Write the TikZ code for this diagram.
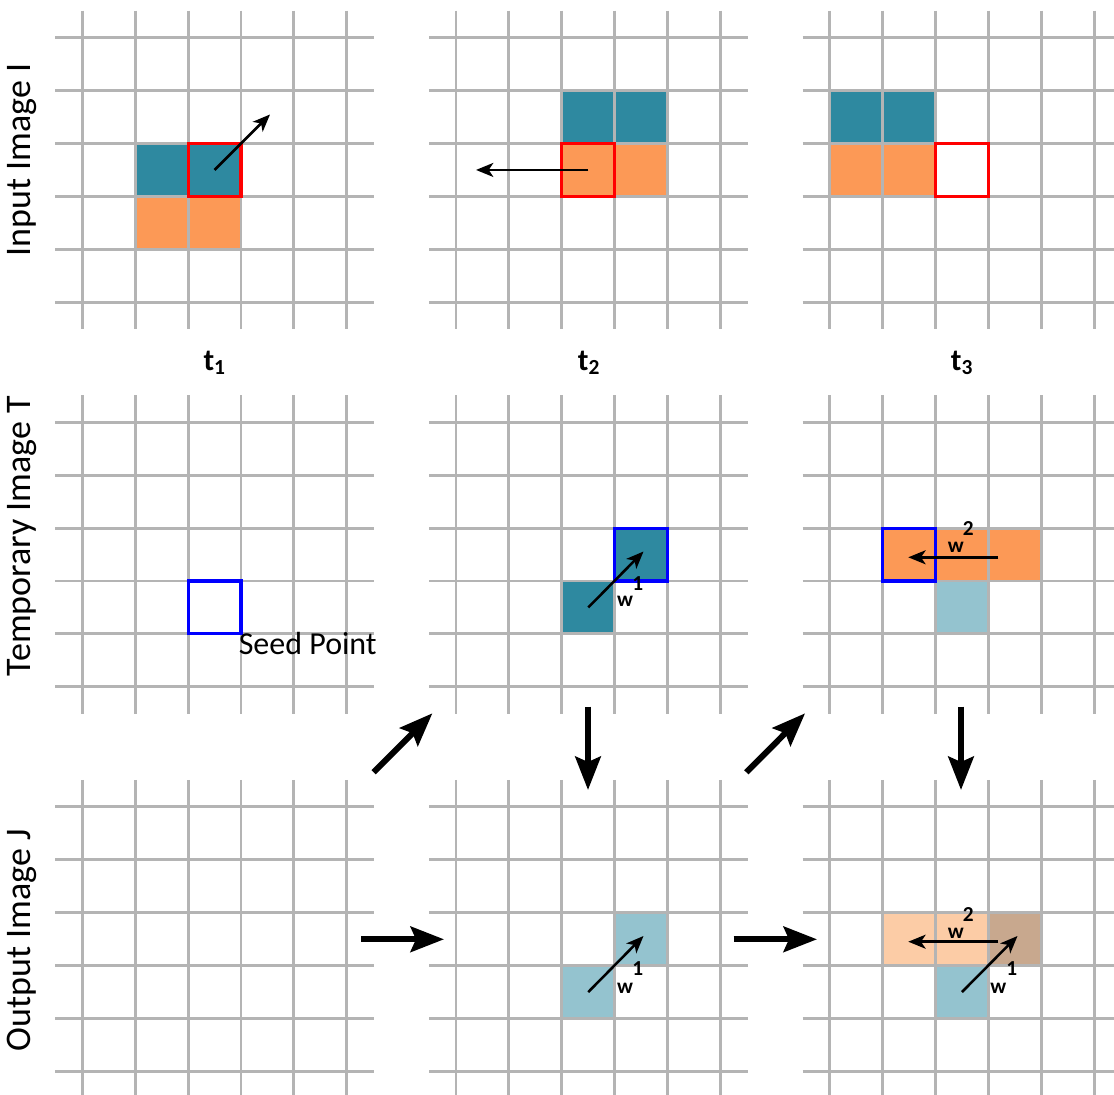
\documentclass[tikz,border=0pt]{standalone}
\usepackage{fontspec}
\setmainfont{Carlito}
\usetikzlibrary{arrows.meta}
\definecolor{tealc}{RGB}{46,137,160}
\definecolor{orangec}{RGB}{252,153,86}
\definecolor{lighttealc}{RGB}{148,195,207}
\definecolor{lightorangec}{RGB}{252,204,166}
\definecolor{brownc}{RGB}{200,168,142}
\definecolor{gridc}{RGB}{180,180,180}
\tikzset{
  gridline/.style={draw=gridc, line width=2.2pt},
  cell/.style={rectangle, inner sep=0pt, outer sep=0pt, minimum size=39.675pt, draw=none},
  redbox/.style={cell, draw=red, line width=2.3pt},
  bluebox/.style={cell, draw=blue, line width=2.3pt},
  smallarrow/.style={line width=1.9pt, -{Stealth[length=13pt, width=10.5pt, inset=3.5pt]}},
  bigarrow/.style={line width=4.5pt, -{Stealth[length=25pt, width=19pt, inset=4pt]}},
  rowlabel/.style={font=\fontsize{27}{31}\selectfont, rotate=90, inner sep=0pt},
  timelabel/.style={font=\fontsize{23}{27}\selectfont\bfseries, anchor=base, inner sep=0pt},
  wlabel/.style={font=\fontsize{16}{19}\selectfont\bfseries, inner sep=0pt},
}
\newcommand\gridpanel[2]{%
  \foreach \k in {0,...,5} {
    \draw[gridline] ({#1+52.9*\k},{#2-27}) -- ({#1+52.9*\k},{#2+291.5});
    \draw[gridline] ({#1-27},{#2+52.9*\k}) -- ({#1+291.5},{#2+52.9*\k});
  }}
\begin{document}
\begin{tikzpicture}[x=0.75pt,y=-0.75pt]
\path[use as bounding box] (0,0) rectangle (1114,1095);
\clip (0,0) rectangle (1114,1095);
% ---------- filled cells ----------
% row 1, t1
\node[cell, fill=tealc] (i1a) at (161.65,169.95) {};
\node[cell, fill=tealc] (i1b) at (214.55,169.95) {};
\node[cell, fill=orangec] (i1c) at (161.65,222.85) {};
\node[cell, fill=orangec] (i1d) at (214.55,222.85) {};
% row 1, t2
\node[cell, fill=tealc] (i2a) at (588.25,117.05) {};
\node[cell, fill=tealc] (i2b) at (641.15,117.05) {};
\node[cell, fill=orangec] (i2c) at (588.25,169.95) {};
\node[cell, fill=orangec] (i2d) at (641.15,169.95) {};
% row 1, t3
\node[cell, fill=tealc] (i3a) at (856.15,117.05) {};
\node[cell, fill=tealc] (i3b) at (909.05,117.05) {};
\node[cell, fill=orangec] (i3c) at (856.15,169.95) {};
\node[cell, fill=orangec] (i3d) at (909.05,169.95) {};
% row 2, t2
\node[cell, fill=tealc] (t2a) at (588.25,607.45) {};
\node[cell, fill=tealc] (t2b) at (641.15,554.55) {};
% row 2, t3
\node[cell, fill=orangec] (t3a) at (909.05,554.55) {};
\node[cell, fill=orangec] (t3b) at (961.95,554.55) {};
\node[cell, fill=orangec] (t3c) at (1014.85,554.55) {};
\node[cell, fill=lighttealc] (t3d) at (961.95,607.45) {};
% row 3, t2
\node[cell, fill=lighttealc] (o2a) at (588.25,992.05) {};
\node[cell, fill=lighttealc] (o2b) at (641.15,939.15) {};
% row 3, t3
\node[cell, fill=lightorangec] (o3a) at (909.05,939.15) {};
\node[cell, fill=lightorangec] (o3b) at (961.95,939.15) {};
\node[cell, fill=brownc] (o3c) at (1014.85,939.15) {};
\node[cell, fill=lighttealc] (o3d) at (961.95,992.05) {};
% ---------- grids ----------
\gridpanel{82.3}{37.7}
\gridpanel{456.0}{37.7}
\gridpanel{829.7}{37.7}
\gridpanel{82.3}{422.3}
\gridpanel{456.0}{422.3}
\gridpanel{829.7}{422.3}
\gridpanel{82.3}{806.9}
\gridpanel{456.0}{806.9}
\gridpanel{829.7}{806.9}
% ---------- outlines ----------
\node[redbox] (r1) at (214.55,169.95) {};
\node[redbox] (r2) at (588.25,169.95) {};
\node[redbox] (r3) at (961.95,169.95) {};
\node[bluebox] (seed) at (214.55,607.45) {};
\node[bluebox] (b2) at (641.15,554.55) {};
\node[bluebox] (b3) at (909.05,554.55) {};
% ---------- small arrows ----------
\coordinate (e1) at (270,114.5);
\coordinate (e2) at (476,169.95);
\coordinate (e3) at (643.5,551.5);
\coordinate (s4) at (998.3,557.3);
\coordinate (e4) at (908.3,557.3);
\coordinate (e5) at (643.5,936);
\coordinate (s6) at (998.3,941.7);
\coordinate (e6) at (908.3,941.7);
\coordinate (e7) at (1017.5,936);
\draw[smallarrow] (r1.center) -- (e1);
\draw[smallarrow] (r2.center) -- (e2);
\draw[smallarrow] (t2a.center) -- (e3);
\draw[smallarrow] (s4) -- (e4);
\draw[smallarrow] (o2a.center) -- (e5);
\draw[smallarrow] (s6) -- (e6);
\draw[smallarrow] (o3d.center) -- (e7);
% ---------- w labels ----------
\node[wlabel] (n1a) at (637.7,583.3) {1};
\node[wlabel] (w1a) at (625,601.7) {w};
\node[wlabel] (n2a) at (968.3,528.3) {2};
\node[wlabel] (w2a) at (955.7,547.7) {w};
\node[wlabel] (n1b) at (637.7,968.3) {1};
\node[wlabel] (w1b) at (625,988.3) {w};
\node[wlabel] (n2b) at (968.3,914) {2};
\node[wlabel] (w2b) at (955.7,933.3) {w};
\node[wlabel] (n1c) at (1011.7,969) {1};
\node[wlabel] (w1c) at (998.3,988.3) {w};
% ---------- big arrows ----------
\coordinate (h1s) at (361,939.3);
\coordinate (h1e) at (444,939.3);
\coordinate (h2s) at (733.7,939.3);
\coordinate (h2e) at (817,939.3);
\coordinate (d1s) at (373.6,772.3);
\coordinate (d1e) at (432.4,713.3);
\coordinate (d2s) at (746.3,772.3);
\coordinate (d2e) at (805.1,713.3);
\coordinate (v1s) at (588,706.7);
\coordinate (v1e) at (588,790);
\coordinate (v2s) at (961,706.7);
\coordinate (v2e) at (961,790);
\draw[bigarrow] (h1s) -- (h1e);
\draw[bigarrow] (h2s) -- (h2e);
\draw[bigarrow] (d1s) -- (d1e);
\draw[bigarrow] (d2s) -- (d2e);
\draw[bigarrow] (v1s) -- (v1e);
\draw[bigarrow] (v2s) -- (v2e);
% ---------- texts ----------
\node[anchor=base west, inner sep=0pt, font=\fontsize{24}{28}\selectfont] (seedtxt) at (238.5,654.3) {Seed Point};
\node[timelabel] (tl1) at (214.7,370) {t\textsubscript{1}};
\node[timelabel] (tl2) at (589,370) {t\textsubscript{2}};
\node[timelabel] (tl3) at (962,370) {t\textsubscript{3}};
\node[rowlabel] (rowI) at (22,160) {Input Image I};
\node[rowlabel] (rowT) at (22,536) {Temporary Image T};
\node[rowlabel] (rowJ) at (22,940) {Output Image J};
\end{tikzpicture}
\end{document}
